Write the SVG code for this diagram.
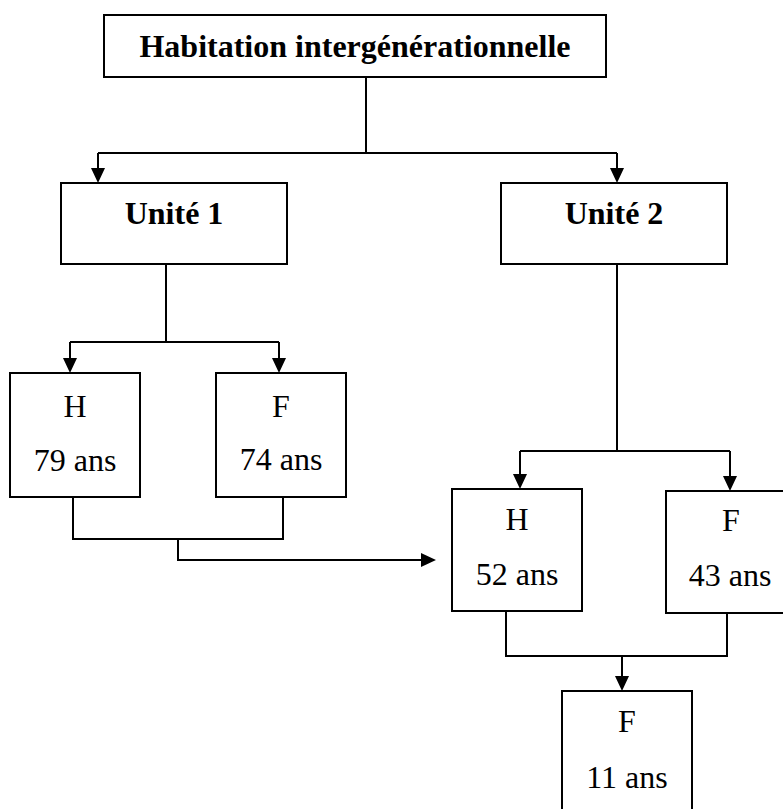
<svg xmlns="http://www.w3.org/2000/svg" width="783" height="809" viewBox="0 0 783 809">
<defs>
<style>
.box{fill:#fff;stroke:#000;stroke-width:2}
.c{fill:none;stroke:#000;stroke-width:2}
.t{font-family:"Liberation Serif","Times New Roman",serif;font-size:32px;text-anchor:middle;fill:#000}
.b{font-weight:bold}
</style>
<marker id="arr" markerUnits="userSpaceOnUse" viewBox="0 0 15 14" refX="11" refY="7" markerWidth="15" markerHeight="14" orient="auto">
<path d="M0,0 L15,7 L0,14 z" fill="#000"/>
</marker>
</defs>
<rect width="783" height="809" fill="#fff"/>
<g id="connectors">
<path class="c" d="M366,77 V153 M98,153 H617"/>
<path class="c" d="M98,153 V179" marker-end="url(#arr)"/>
<path class="c" d="M617,153 V179" marker-end="url(#arr)"/>
<path class="c" d="M166,264 V342 M70,342 H279"/>
<path class="c" d="M70,342 V369" marker-end="url(#arr)"/>
<path class="c" d="M279,342 V369" marker-end="url(#arr)"/>
<path class="c" d="M73,497 V539 H283 V497"/>
<path class="c" d="M178,539 V560 H432" marker-end="url(#arr)"/>
<path class="c" d="M617,264 V451 M520,451 H730"/>
<path class="c" d="M520,451 V485" marker-end="url(#arr)"/>
<path class="c" d="M730,451 V487" marker-end="url(#arr)"/>
<path class="c" d="M506,611 V656 H727 V613"/>
<path class="c" d="M622,656 V687" marker-end="url(#arr)"/>
</g>
<g id="top">
<rect class="box" x="104" y="15" width="502" height="62"/>
<text class="t b" x="355" y="57">Habitation intergénérationnelle</text>
</g>
<g id="unite1">
<rect class="box" x="61" y="183" width="226" height="81"/>
<text class="t b" x="174" y="224">Unité 1</text>
</g>
<g id="unite2">
<rect class="box" x="501" y="183" width="226" height="81"/>
<text class="t b" x="614" y="224">Unité 2</text>
</g>
<g id="h79">
<rect class="box" x="10" y="373" width="130" height="124"/>
<text class="t" x="75" y="417">H</text>
<text class="t" x="75" y="471">79 ans</text>
</g>
<g id="f74">
<rect class="box" x="216" y="373" width="130" height="124"/>
<text class="t" x="281" y="417">F</text>
<text class="t" x="281" y="470">74 ans</text>
</g>
<g id="h52">
<rect class="box" x="452" y="489" width="130" height="122"/>
<text class="t" x="517" y="530">H</text>
<text class="t" x="517" y="585">52 ans</text>
</g>
<g id="f43">
<rect class="box" x="666" y="491" width="130" height="122"/>
<text class="t" x="731" y="531">F</text>
<text class="t" x="730" y="586">43 ans</text>
</g>
<g id="f11">
<rect class="box" x="562" y="691" width="130" height="130"/>
<text class="t" x="627" y="732">F</text>
<text class="t" x="627" y="788">11 ans</text>
</g>
</svg>
